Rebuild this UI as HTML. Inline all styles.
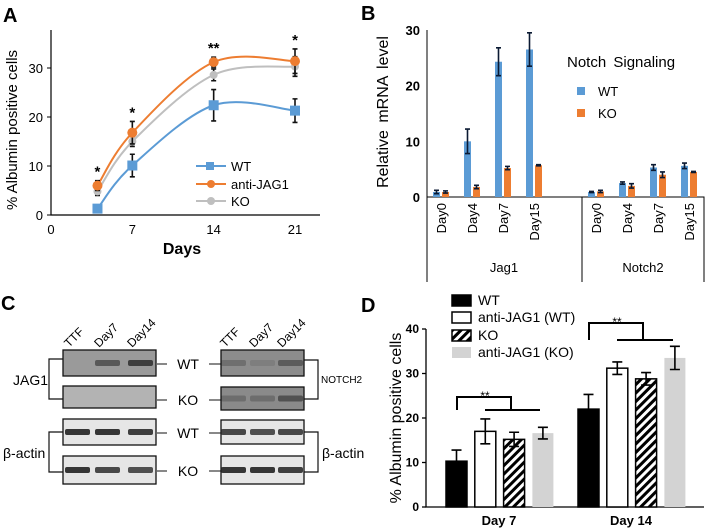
<!DOCTYPE html>
<html><head><meta charset="utf-8"><style>
html,body{margin:0;padding:0;background:#fff;}
svg{display:block;font-family:"Liberation Sans",sans-serif;}
</style></head><body>
<svg id="fig" width="709" height="529" viewBox="0 0 709 529" xmlns="http://www.w3.org/2000/svg">
<g id="pA"></g>
<g id="pB"></g>
<g id="pC"></g>
<g id="pD"></g>
</svg>
<script>
// ---- Panel A data ----
const aDays = [4, 7, 14, 21];
const aWT = [1.3, 10.1, 22.4, 21.3];
const aWTerr = [0.5, 2.3, 3.2, 2.4];
const aAnti = [6.0, 16.8, 31.2, 31.4];
const aAntiErr = [1.0, 2.3, 1.0, 2.5];
const aKO = [4.8, 15.0, 28.6, 30.3];
const aKOerr = [0.8, 1.0, 1.2, 2.0];
const aXTicks = [0, 7, 14, 21];
const aYTicks = [0, 10, 20, 30];
const aStars = ["*", "*", "**", "*"];
// ---- Panel B data ----
const bDays = ["Day0", "Day4", "Day7", "Day15"];
const bGenes = ["Jag1", "Notch2"];
const bWT = [[0.9, 10.0, 24.3, 26.5], [0.9, 2.5, 5.3, 5.6]];
const bWTerr = [[0.3, 2.2, 2.5, 3.0], [0.1, 0.2, 0.5, 0.5]];
const bKO = [[0.9, 1.8, 5.2, 5.7], [1.0, 2.0, 4.0, 4.5]];
const bKOerr = [[0.2, 0.3, 0.3, 0.1], [0.2, 0.4, 0.5, 0.1]];
const bYTicks = [0, 10, 20, 30];
// ---- Panel D data ----
const dGroups = ["Day 7", "Day 14"];
const dSeries = ["WT", "anti-JAG1 (WT)", "KO", "anti-JAG1 (KO)"];
const dVals = [[10.3, 17.0, 15.2, 16.6], [22.0, 31.2, 28.8, 33.5]];
const dErrs = [[2.5, 2.8, 1.6, 1.3], [3.3, 1.4, 1.4, 2.6]];
const dYTicks = [0, 10, 20, 30, 40];

const NS = "http://www.w3.org/2000/svg";
function mk(parent, tag, attrs, text) {
  const e = document.createElementNS(NS, tag);
  for (const k in attrs) e.setAttribute(k, attrs[k]);
  if (text !== undefined) e.textContent = text;
  parent.appendChild(e);
  return e;
}
function named(e, n, i) {
  
  
  return e;
}
function errbar(g, x, y1, y2, w, col, name) {
  const p = mk(g, 'path', {d: `M${x-w},${y1}H${x+w}M${x},${y1}V${y2}M${x-w},${y2}H${x+w}`, stroke: col, 'stroke-width': 1.6, fill: 'none'});
  named(p, name, false);
}
function catmull(pts) {
  let d = `M${pts[0][0]},${pts[0][1]}`;
  for (let i = 0; i < pts.length - 1; i++) {
    const p0 = pts[i-1] || pts[i], p1 = pts[i], p2 = pts[i+1], p3 = pts[i+2] || p2;
    const c1 = [p1[0] + (p2[0]-p0[0])/6, p1[1] + (p2[1]-p0[1])/6];
    const c2 = [p2[0] - (p3[0]-p1[0])/6, p2[1] - (p3[1]-p1[1])/6];
    d += `C${c1[0]},${c1[1]} ${c2[0]},${c2[1]} ${p2[0]},${p2[1]}`;
  }
  return d;
}

// ================= Panel A =================
(function(){
  const g = document.getElementById('pA');
  const xA = d => 51 + d * (244/21);
  const yA = v => 215 - v * 4.9;
  let t = mk(g, 'text', {x: 3, y: 22, 'font-size': 20, 'font-weight': 'bold'}, 'A');
  named(t, 'panel-label-a', false);
  let ax = mk(g, 'path', {d: 'M51,30V215H320', stroke: '#000', 'stroke-width': 1.2, fill: 'none'});
  named(ax, 'axes-a', false);
  aYTicks.forEach(v => {
    const l = mk(g, 'line', {x1: 47, x2: 51, y1: yA(v), y2: yA(v), stroke: '#000'});
    named(l, 'y-tick-a', false);
    const tt = mk(g, 'text', {x: 43, y: yA(v) + 5, 'font-size': 13, 'text-anchor': 'end'}, v);
    named(tt, 'y-tick-label-a', false);
  });
  aXTicks.forEach(v => {
    const tt = mk(g, 'text', {x: xA(v), y: 234, 'font-size': 13, 'text-anchor': 'middle'}, v);
    named(tt, 'x-tick-label-a', false);
  });
  t = mk(g, 'text', {x: 182, y: 254, 'font-size': 16, 'font-weight': 'bold', 'text-anchor': 'middle'}, 'Days');
  named(t, 'x-axis-title-a', false);
  t = mk(g, 'text', {x: 0, y: 0, 'font-size': 15, 'text-anchor': 'middle', transform: 'translate(17,130) rotate(-90)'}, '% Albumin positive cells');
  named(t, 'y-axis-title-a', false);
  const series = [
    {v: aKO, e: aKOerr, c: '#bfbfbf', n: 'ko', shape: 'circle'},
    {v: aWT, e: aWTerr, c: '#5b9bd5', n: 'wt', shape: 'square'},
    {v: aAnti, e: aAntiErr, c: '#ed7d31', n: 'anti-jag1', shape: 'circle'}
  ];
  series.forEach(s => {
    const pts = aDays.map((d, i) => [xA(d), yA(s.v[i])]);
    const p = mk(g, 'path', {d: catmull(pts), stroke: s.c, 'stroke-width': 2, fill: 'none'});
    named(p, 'line-' + s.n, false);
  });
  series.forEach(s => {
    aDays.forEach((d, i) => {
      errbar(g, xA(d), yA(s.v[i] + s.e[i]), yA(s.v[i] - s.e[i]), 2.5, '#111', 'error-bar-' + s.n);
      let m;
      if (s.shape === 'square') m = mk(g, 'rect', {x: xA(d) - 5, y: yA(s.v[i]) - 5, width: 10, height: 10, fill: s.c});
      else m = mk(g, 'circle', {cx: xA(d), cy: yA(s.v[i]), r: s.n === 'ko' ? 4 : 5, fill: s.c});
      named(m, 'point-' + s.n, false);
    });
  });
  aDays.forEach((d, i) => {
    const top = Math.max(aAnti[i] + aAntiErr[i], aKO[i] + aKOerr[i]);
    const tt = mk(g, 'text', {x: xA(d), y: yA(top) - 4, 'font-size': 15, 'text-anchor': 'middle', 'font-weight': 'bold'}, aStars[i]);
    named(tt, 'significance-star-a', false);
  });
  const leg = [['WT', '#5b9bd5', 'square', 166], ['anti-JAG1', '#ed7d31', 'circle', 184], ['KO', '#bfbfbf', 'circle', 201]];
  leg.forEach(l => {
    const lg = mk(g, 'g', {});
    named(lg, 'legend-entry-a', false);
    mk(lg, 'line', {x1: 196, x2: 226, y1: l[3], y2: l[3], stroke: l[1], 'stroke-width': 2});
    if (l[2] === 'square') mk(lg, 'rect', {x: 206, y: l[3] - 4, width: 8, height: 8, fill: l[1]});
    else mk(lg, 'circle', {cx: 211, cy: l[3], r: 4, fill: l[1]});
    mk(lg, 'text', {x: 231, y: l[3] + 5, 'font-size': 13}, l[0]);
  });
})();

// ================= Panel B =================
(function(){
  const g = document.getElementById('pB');
  const yB = v => 197 - v * (167/30);
  let t = mk(g, 'text', {x: 361, y: 20, 'font-size': 20, 'font-weight': 'bold'}, 'B');
  named(t, 'panel-label-b', false);
  let ax = mk(g, 'path', {d: 'M427,30V282M427,197H704V282M582,197V282', stroke: '#000', 'stroke-width': 1, fill: 'none'});
  named(ax, 'axes-b', false);
  bYTicks.forEach(v => {
    const tt = mk(g, 'text', {x: 420, y: yB(v) + 5, 'font-size': 13, 'font-weight': 'bold', 'text-anchor': 'end'}, v);
    named(tt, 'y-tick-label-b', false);
  });
  t = mk(g, 'text', {x: 0, y: 0, 'font-size': 16, 'text-anchor': 'middle', 'word-spacing': 3, transform: 'translate(388,112) rotate(-90)'}, 'Relative mRNA level');
  named(t, 'y-axis-title-b', false);
  const gx0 = [433, 588];
  bGenes.forEach((gn, gi) => {
    bDays.forEach((dn, di) => {
      const cx = gx0[gi] + di * 31;
      const b1 = mk(g, 'rect', {x: cx, y: yB(bWT[gi][di]), width: 7, height: 197 - yB(bWT[gi][di]), fill: '#5b9bd5'});
      named(b1, 'bar-wt-' + gn.toLowerCase() + '-' + dn.toLowerCase(), false);
      const b2 = mk(g, 'rect', {x: cx + 9, y: yB(bKO[gi][di]), width: 7, height: 197 - yB(bKO[gi][di]), fill: '#ed7d31'});
      named(b2, 'bar-ko-' + gn.toLowerCase() + '-' + dn.toLowerCase(), false);
      errbar(g, cx + 3.5, yB(bWT[gi][di] + bWTerr[gi][di]), yB(bWT[gi][di] - bWTerr[gi][di]), 2.5, '#0b1a33', 'error-bar-b');
      errbar(g, cx + 12.5, yB(bKO[gi][di] + bKOerr[gi][di]), yB(bKO[gi][di] - bKOerr[gi][di]), 2.5, '#0b1a33', 'error-bar-b');
      const tl = mk(g, 'text', {x: 0, y: 0, 'font-size': 13, 'text-anchor': 'end', transform: `translate(${cx + 13},203) rotate(-90)`}, dn);
      named(tl, 'x-tick-label-b', false);
    });
    const gl = mk(g, 'text', {x: gi === 0 ? 504 : 643, y: 272, 'font-size': 13, 'text-anchor': 'middle'}, gn);
    named(gl, 'group-label-b', false);
  });
  t = mk(g, 'text', {x: 567, y: 67, 'font-size': 15, 'word-spacing': 3}, 'Notch Signaling');
  named(t, 'legend-title-b', false);
  [['WT', '#5b9bd5', 91], ['KO', '#ed7d31', 113]].forEach(l => {
    const lg = mk(g, 'g', {});
    named(lg, 'legend-entry-b', false);
    mk(lg, 'rect', {x: 577, y: l[2] - 4, width: 8, height: 8, fill: l[1]});
    mk(lg, 'text', {x: 598, y: l[2] + 5, 'font-size': 13}, l[0]);
  });
})();

// ================= Panel C (western blots) =================
(function(){
  const g = document.getElementById('pC');
  let t = mk(g, 'text', {x: 1, y: 310, 'font-size': 20, 'font-weight': 'bold'}, 'C');
  named(t, 'panel-label-c', false);
  const lanesL = [77, 107, 140], lanesR = [233, 262, 290];
  [['TTF', 0], ['Day7', 1], ['Day14', 2]].forEach(h => {
    let a = mk(g, 'text', {x: 0, y: 0, 'font-size': 12, transform: `translate(${lanesL[h[1]] - 8},348) rotate(-45)`}, h[0]);
    named(a, 'lane-label-left', false);
    a = mk(g, 'text', {x: 0, y: 0, 'font-size': 12, transform: `translate(${lanesR[h[1]] - 8},348) rotate(-45)`}, h[0]);
    named(a, 'lane-label-right', false);
  });
  const blots = [
    // x, y, w, h, bg, bands [lane intensity], name
    [63, 350, 93, 26, '#9a9a9a', [0, 0.6, 0.85], 'blot-jag1-wt', lanesL],
    [63, 386, 93, 22, '#b3b3b3', [0, 0, 0], 'blot-jag1-ko', lanesL],
    [63, 419, 93, 26, '#e6e6e6', [1, 1, 0.95], 'blot-actin-wt-left', lanesL],
    [63, 456, 93, 28, '#e6e6e6', [1, 0.9, 0.85], 'blot-actin-ko-left', lanesL],
    [221, 350, 83, 26, '#8c8c8c', [0.3, 0.15, 0.5], 'blot-notch2-wt', lanesR],
    [221, 387, 83, 23, '#8a8a8a', [0.3, 0.3, 0.6], 'blot-notch2-ko', lanesR],
    [221, 420, 83, 24, '#e6e6e6', [0.9, 0.85, 0.9], 'blot-actin-wt-right', lanesR],
    [221, 456, 83, 28, '#e6e6e6', [1, 1, 0.95], 'blot-actin-ko-right', lanesR]
  ];
  blots.forEach(b => {
    const bg = mk(g, 'g', {});
    named(bg, b[6], false);
    mk(bg, 'rect', {x: b[0], y: b[1], width: b[2], height: b[3], fill: b[4], stroke: '#111', 'stroke-width': 1.3});
    b[5].forEach((k, i) => {
      if (k > 0) mk(bg, 'rect', {x: b[7][i] - 12, y: b[1] + b[3] / 2 - 3, width: 25, height: 6, rx: 2, fill: '#222', opacity: k * 0.9});
    });
  });
  [['WT', 369], ['KO', 405], ['WT', 438], ['KO', 476]].forEach(l => {
    const tt = mk(g, 'text', {x: 188, y: l[1], 'font-size': 14, 'text-anchor': 'middle'}, l[0]);
    named(tt, 'genotype-label-c', false);
    const ln = mk(g, 'path', {d: `M157,${l[1] - 5}H167M209,${l[1] - 5}H221`, stroke: '#111', 'stroke-width': 1});
    named(ln, 'connector-line-c', false);
  });
  const br = mk(g, 'path', {d: 'M63,359H49V399H63M63,432H49V472H63M304,360H318V399H304M304,432H318V472H304', stroke: '#111', 'stroke-width': 1.2, fill: 'none'});
  named(br, 'brackets-c', false);
  t = mk(g, 'text', {x: 13, y: 385, 'font-size': 14}, 'JAG1'); named(t, 'protein-label-jag1', false);
  t = mk(g, 'text', {x: 3, y: 458, 'font-size': 14}, 'β-actin'); named(t, 'protein-label-actin-left', false);
  t = mk(g, 'text', {x: 321, y: 383, 'font-size': 10}, 'NOTCH2'); named(t, 'protein-label-notch2', false);
  t = mk(g, 'text', {x: 322, y: 458, 'font-size': 14}, 'β-actin'); named(t, 'protein-label-actin-right', false);
})();

// ================= Panel D =================
(function(){
  const g = document.getElementById('pD');
  const yD = v => 507 - v * 4.45;
  let t = mk(g, 'text', {x: 361, y: 312, 'font-size': 20, 'font-weight': 'bold'}, 'D');
  named(t, 'panel-label-d', false);
  const ax = mk(g, 'path', {d: 'M426,329V507H704', stroke: '#000', 'stroke-width': 1.3, fill: 'none'});
  named(ax, 'axes-d', false);
  dYTicks.forEach(v => {
    mk(g, 'line', {x1: 422, x2: 426, y1: yD(v), y2: yD(v), stroke: '#000', 'stroke-width': 1.3});
    const tt = mk(g, 'text', {x: 419, y: yD(v) + 4, 'font-size': 12, 'font-weight': 'bold', 'text-anchor': 'end'}, v);
    named(tt, 'y-tick-label-d', false);
  });
  t = mk(g, 'text', {x: 0, y: 0, 'font-size': 16, 'text-anchor': 'middle', transform: 'translate(401,418) rotate(-90)'}, '% Albumin positive cells');
  named(t, 'y-axis-title-d', false);
  const defs = mk(g, 'defs', {});
  const pat = mk(defs, 'pattern', {id: 'hatch', width: 6, height: 6, patternUnits: 'userSpaceOnUse', patternTransform: 'rotate(45)'});
  mk(pat, 'rect', {x: 0, y: 0, width: 6, height: 6, fill: '#fff'});
  mk(pat, 'rect', {x: 0, y: 0, width: 3, height: 6, fill: '#000'});
  const fills = ['#000', '#fff', 'url(#hatch)', '#d3d3d3'];
  const strokes = ['#000', '#000', '#000', 'none'];
  const gStart = [446, 578];
  dGroups.forEach((gn, gi) => {
    dSeries.forEach((sn, si) => {
      const x = gStart[gi] + si * 28.8;
      const v = dVals[gi][si], e = dErrs[gi][si];
      const r = mk(g, 'rect', {x: x, y: yD(v), width: 21, height: 507 - yD(v), fill: fills[si], stroke: strokes[si], 'stroke-width': 1.5});
      named(r, 'bar-' + gn.replace(' ', '').toLowerCase() + '-' + si, false);
      errbar(g, x + 10.5, yD(v + e), yD(v - e), 5, '#000', 'error-bar-d');
    });
    const lb = mk(g, 'text', {x: gStart[gi] + 53, y: 525, 'font-size': 13, 'font-weight': 'bold', 'text-anchor': 'middle'}, gn);
    named(lb, 'x-tick-label-d', false);
  });
  const sig = mk(g, 'path', {d: 'M457,410V397H511V410M485,410H540M589,340V323H643V340M617,340H673', stroke: '#000', 'stroke-width': 2, fill: 'none'});
  named(sig, 'significance-brackets-d', false);
  t = mk(g, 'text', {x: 485, y: 400, 'font-size': 12, 'text-anchor': 'middle'}, '**'); named(t, 'significance-star-d', false);
  t = mk(g, 'text', {x: 617, y: 326, 'font-size': 12, 'text-anchor': 'middle'}, '**'); named(t, 'significance-star-d', false);
  const lys = [300, 317, 335, 352];
  dSeries.forEach((sn, si) => {
    const lg = mk(g, 'g', {});
    named(lg, 'legend-entry-d', false);
    mk(lg, 'rect', {x: 452, y: lys[si] - 5, width: 19, height: 11, fill: fills[si], stroke: strokes[si], 'stroke-width': 1.5});
    mk(lg, 'text', {x: 478, y: lys[si] + 5, 'font-size': 14}, sn);
  });
})();
</script>
</body></html>
